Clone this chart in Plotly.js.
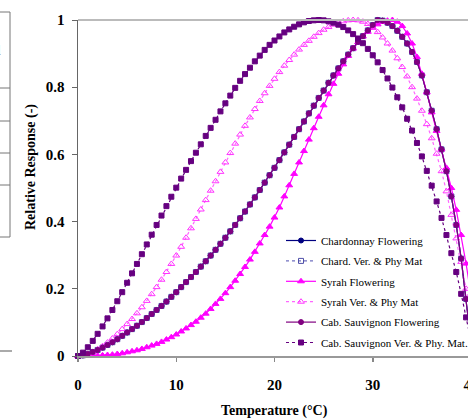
<!DOCTYPE html>
<html>
<head>
<meta charset="utf-8">
<script src="https://cdn.plot.ly/plotly-3.0.1.min.js"></script>
<style>
html,body{margin:0;padding:0;overflow:hidden;background:#fff;}
#chart{width:500px;height:419px;}
</style>
</head>
<body>
<div id="chart"></div>
<script>
// Temperature (°C)
const temperature = [0,0.5,1,1.5,2,2.5,3,3.5,4,4.5,5,5.5,6,6.5,7,7.5,8,8.5,9,9.5,10,10.5,11,11.5,12,12.5,13,13.5,14,14.5,15,15.5,16,16.5,17,17.5,18,18.5,19,19.5,20,20.5,21,21.5,22,22.5,23,23.5,24,24.5,25,25.5,26,26.5,27,27.5,28,28.5,29,29.5,30,30.5,31,31.5,32,32.5,33,33.5,34,34.5,35,35.5,36,36.5,37,37.5,38,38.5,39,39.5,40];

const chardFlowering = [0,.002,.006,.012,.018,.025,.033,.041,.05,.06,
 .07,.08,.09,.101,.113,.125,.137,.149,.162,.176,
 .19,.205,.22,.235,.25,.266,.282,.299,.316,.334,
 .352,.371,.39,.41,.43,.451,.472,.494,.516,.538,
 .56,.583,.606,.629,.652,.675,.698,.722,.745,.768,
 .79,.813,.835,.856,.877,.897,.916,.935,.952,.969,
 .985,1.0,.998,.992,.982,.968,.95,.93,.905,.875,
 .835,.785,.73,.675,.615,.55,.475,.39,.29,.17,
 .04];

const chardVeraison = [0,.002,.006,.012,.018,.025,.033,.041,.05,.06,
 .07,.08,.09,.101,.113,.125,.137,.149,.162,.176,
 .19,.205,.22,.235,.25,.266,.282,.299,.316,.334,
 .352,.371,.39,.41,.43,.451,.472,.494,.516,.538,
 .56,.583,.606,.629,.652,.675,.698,.722,.745,.768,
 .79,.813,.835,.856,.877,.897,.916,.935,.952,.969,
 .985,1.0,.998,.992,.982,.968,.95,.93,.905,.875,
 .835,.785,.73,.675,.615,.55,.475,.39,.29,.17,
 .04];

const syrahFlowering = [0,0,0,.001,.001,.002,.003,.004,.006,.008,
 .011,.014,.017,.021,.026,.031,.036,.042,.049,.056,
 .064,.073,.082,.092,.102,.114,.126,.14,.155,.17,
 .187,.205,.224,.244,.265,.287,.31,.335,.36,.385,
 .412,.442,.475,.508,.542,.576,.61,.644,.678,.712,
 .746,.779,.81,.84,.868,.893,.915,.934,.951,.965,
 .977,.987,.994,.998,1.0,.995,.982,.96,.93,.89,
 .84,.785,.725,.67,.615,.56,.5,.435,.36,.275,
 .18];

const syrahVeraison = [0,.002,.006,.012,.02,.029,.04,.052,.065,.08,
 .095,.11,.127,.145,.164,.184,.205,.227,.25,.274,
 .299,.325,.352,.38,.408,.436,.464,.492,.52,.548,
 .576,.604,.632,.659,.685,.71,.735,.759,.782,.804,
 .825,.845,.864,.881,.897,.912,.926,.938,.95,.961,
 .971,.979,.986,.992,.996,.999,1.0,.999,.995,.988,
 .978,.964,.948,.93,.909,.886,.86,.832,.80,.766,
 .73,.69,.648,.602,.55,.49,.42,.35,.28,.20,
 .12];

const cabFlowering = [0,.002,.006,.012,.018,.025,.033,.041,.05,.06,
 .07,.08,.09,.101,.113,.125,.137,.149,.162,.176,
 .19,.205,.22,.235,.25,.266,.282,.299,.316,.334,
 .352,.371,.39,.41,.43,.451,.472,.494,.516,.538,
 .56,.583,.606,.629,.652,.675,.698,.722,.745,.768,
 .79,.813,.835,.856,.877,.897,.916,.935,.952,.969,
 .985,1.0,.998,.992,.982,.968,.95,.93,.905,.875,
 .835,.785,.73,.675,.615,.55,.475,.39,.29,.17,
 .04];

const cabVeraison = [0,.01,.026,.045,.066,.088,.112,.137,.163,.19,
 .218,.246,.274,.303,.332,.361,.39,.418,.446,.474,
 .501,.528,.554,.58,.605,.63,.655,.679,.703,.728,
 .752,.775,.798,.819,.839,.858,.877,.894,.911,.926,
 .939,.951,.963,.972,.98,.987,.993,.997,.999,1.0,
 .999,.996,.992,.986,.979,.969,.958,.945,.931,.914,
 .895,.874,.851,.826,.799,.77,.74,.706,.671,.634,
 .594,.551,.507,.46,.411,.36,.306,.25,.185,.115,
 .045];

const seriesNames = ['Chardonnay Flowering','Chard. Ver. & Phy Mat','Syrah Flowering','Syrah Ver. & Phy Mat','Cab. Sauvignon Flowering','Cab. Sauvignon Ver. & Phy. Mat.'];
const yTicks = [0,0.2,0.4,0.6,0.8,1];
const xTicks = [0,10,20,30,40];

// layout geometry (pixels)
const W = 500, H = 419, ML = 78, MT = 20, PW = 393, PH = 336;
const fx = px => (px - ML) / PW;
const fy = py => (MT + PH - py) / PH;

const serif = 'Liberation Serif, Times New Roman, serif';

function tr(y, name, color, symbol, size, dash, lcolor, grp) {
  return {
    x: temperature, y: y, name: name, type: 'scatter', mode: 'lines+markers',
    cliponaxis: false, legendgroup: grp,
    line: {color: lcolor || color, width: 1.2, dash: dash},
    marker: {color: color, symbol: symbol, size: size, line: {color: color, width: 1}}
  };
}

const data = [
  tr(chardFlowering, seriesNames[0], '#000080', 'circle', 5, 'solid', null, 'g1'),
  tr(chardVeraison, seriesNames[1], '#5050A8', 'square-open', 5, 'dot', '#7070C0', 'g2'),
  tr(syrahFlowering, seriesNames[2], '#FF00FF', 'triangle-up', 6, 'solid', null, 'g3'),
  tr(syrahVeraison, seriesNames[3], '#FF33FF', 'triangle-up-open', 6, 'dot', '#FF66FF', 'g4'),
  tr(cabFlowering, seriesNames[4], '#800080', 'circle', 5, 'solid', null, 'g5'),
  tr(cabVeraison, seriesNames[5], '#660080', 'square', 5, 'dot', null, 'g6')
];

const tableColor = '#777';
const shapes = [
  {type:'line', xref:'paper', yref:'paper', x0:0, x1:1, y0:1, y1:1, line:{color:'#BBBBBB', width:2}},
  {type:'line', xref:'paper', yref:'paper', x0:fx(10), x1:fx(10), y0:fy(12), y1:fy(237), line:{color:tableColor, width:1}},
  {type:'line', xref:'paper', yref:'paper', x0:fx(0), x1:fx(10), y0:fy(12), y1:fy(12), line:{color:tableColor, width:1}},
  {type:'line', xref:'paper', yref:'paper', x0:fx(0), x1:fx(10), y0:fy(88), y1:fy(88), line:{color:tableColor, width:1}},
  {type:'line', xref:'paper', yref:'paper', x0:fx(0), x1:fx(10), y0:fy(121), y1:fy(121), line:{color:tableColor, width:1}},
  {type:'line', xref:'paper', yref:'paper', x0:fx(0), x1:fx(10), y0:fy(153), y1:fy(153), line:{color:tableColor, width:1}},
  {type:'line', xref:'paper', yref:'paper', x0:fx(0), x1:fx(10), y0:fy(185), y1:fy(185), line:{color:tableColor, width:1}},
  {type:'line', xref:'paper', yref:'paper', x0:fx(0), x1:fx(10), y0:fy(237), y1:fy(237), line:{color:tableColor, width:1}},
  {type:'line', xref:'paper', yref:'paper', x0:fx(0), x1:fx(12), y0:fy(351), y1:fy(351), line:{color:'#AAAAAA', width:2}}
];

const annotations = [
  {text:'Relative Response (-)', textangle:-90, xref:'paper', yref:'paper', x:fx(31), y:fy(167),
   xanchor:'center', yanchor:'middle', showarrow:false, font:{family:serif, size:14, color:'#000', weight:'bold'}},
  {text:'Temperature (°C)', xref:'paper', yref:'paper', x:0.5, y:fy(411),
   xanchor:'center', yanchor:'middle', showarrow:false, font:{family:serif, size:14, color:'#000', weight:'bold'}},
  {text:'l', xref:'paper', yref:'paper', x:fx(3), y:fy(50), xanchor:'right', yanchor:'middle',
   showarrow:false, font:{family:serif, size:14, color:'#333'}}
];

const layout = {
  width: W, height: H,
  margin: {l: ML, r: W - ML - PW, t: MT, b: H - MT - PH, pad: 0},
  paper_bgcolor: '#fff', plot_bgcolor: '#fff',
  showlegend: true,
  legend: {x: fx(281), y: fy(357), xanchor: 'left', yanchor: 'bottom',
           bgcolor: 'rgba(0,0,0,0)', borderwidth: 0, tracegroupgap: 1.4,
           font: {family: serif, size: 11, color: '#000'}},
  xaxis: {range: [0, 40], tickvals: xTicks, ticks: 'outside', ticklen: 4, tickcolor: '#888', tickwidth: 1.5,
          showline: true, linecolor: '#999', linewidth: 2, showgrid: false, zeroline: false,
          ticklabelstandoff: 10,
          tickfont: {family: serif, size: 15, color: '#000', weight: 'bold'}},
  yaxis: {range: [0, 1], tickvals: yTicks, ticks: 'outside', ticklen: 5, tickcolor: '#666', tickwidth: 1,
          showline: true, linecolor: '#666', linewidth: 1.5, showgrid: false, zeroline: false,
          ticklabelstandoff: 4,
          tickfont: {family: serif, size: 15, color: '#000', weight: 'bold'}},
  shapes: shapes,
  annotations: annotations
};

Plotly.newPlot('chart', data, layout, {displayModeBar: false, staticPlot: true});
</script>
</body>
</html>
